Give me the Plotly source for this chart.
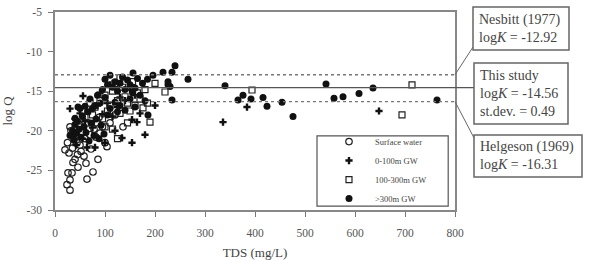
import plotly.graph_objects as go

# ---- data ----
surf_tds = [20, 26, 30, 24, 30, 34, 46, 62, 64, 76, 86, 104, 136, 100, 28, 35, 38, 42, 45, 50,
            55, 60, 70, 78, 82, 90, 95, 40, 52, 32, 48, 66, 110, 120, 88, 72, 36, 44, 58, 25, 30]
surf_logq = [-22.4, -25.3, -26.2, -26.8, -27.5, -25.3, -24.6, -24.1, -26.1, -25.2, -23.6, -22.0, -19.5,
             -21.5, -22.8, -22.2, -21.0, -20.5, -23.0, -21.8, -20.2, -21.0, -20.5, -19.8, -20.8, -20.3,
             -19.5, -23.6, -22.6, -20.0, -19.2, -19.0, -19.0, -18.0, -18.3, -22.3, -24.0, -21.5, -23.2,
             -21.5, -19.5]

gw1_tds = [56, 134, 154, 180, 100, 64, 80, 384, 648, 336, 154, 164, 30, 40, 45, 50, 60, 70, 85, 95,
           105, 115, 125, 130, 140, 150, 160, 110, 90, 75, 35, 170, 200, 120, 55, 42]
gw1_logq = [-15.6, -20.9, -21.5, -20.5, -21.5, -22.1, -22.1, -17.0, -17.5, -18.9, -18.6, -18.9, -17.2,
            -18.5, -20.0, -17.8, -18.8, -17.5, -16.8, -17.9, -16.5, -18.2, -17.0, -15.8, -16.2, -14.8,
            -15.5, -14.2, -15.2, -19.6, -20.8, -17.8, -16.8, -20.0, -21.0, -21.8]

gw2_tds = [394, 714, 694, 220, 190, 176, 140, 80, 90, 100, 105, 110, 115, 120, 125, 130, 135, 145,
           150, 155, 160, 165, 170, 180, 185, 60, 70, 95, 100, 115, 85, 200, 130, 145, 75, 50, 40, 125]
gw2_logq = [-14.85, -14.2, -18.0, -15.1, -18.9, -17.1, -15.7, -17.0, -16.2, -15.5, -17.5, -16.8, -15.0,
            -14.0, -16.2, -17.8, -14.5, -16.5, -17.5, -13.8, -16.8, -15.2, -16.0, -14.8, -16.5, -18.2,
            -16.5, -18.5, -19.5, -19.8, -19.0, -14.0, -13.3, -19.0, -18.0, -19.5, -19.8, -21.0]

gw3_tds = [240, 266, 234, 216, 196, 234, 226, 230, 226, 156, 340, 366, 376, 392, 416, 424, 454, 476,
           542, 558, 576, 608, 636, 764,
           100, 105, 110, 115, 120, 125, 130, 135, 140, 145, 150, 155, 160, 165, 170, 175, 180, 185,
           100, 95, 90, 85, 80, 75, 70, 65, 60, 55, 50, 45, 40, 35, 30, 38, 42, 48, 52, 58, 62, 68,
           72, 78, 82, 88, 92, 98, 105, 110, 120, 125, 130, 140, 150, 160, 186, 46, 40]
gw3_logq = [-11.8, -13.5, -12.6, -12.6, -13.0, -16.1, -14.2, -14.4, -13.8, -12.7, -14.3, -16.1, -15.5,
            -16.0, -15.8, -16.9, -16.4, -18.2, -14.1, -15.9, -15.7, -15.3, -14.6, -16.1,
            -13.5, -14.2, -13.0, -14.5, -13.8, -15.0, -14.0, -13.2, -14.8, -13.6, -14.2, -15.2, -14.6,
            -13.4, -15.5, -14.0, -16.2, -13.5,
            -15.8, -14.8, -16.5, -15.5, -16.8, -17.2, -16.0, -17.6, -16.9, -18.2, -17.2, -18.8, -19.2,
            -20.0, -20.6, -21.2, -20.3, -19.8, -20.8, -19.5, -20.2, -21.3, -19.0, -20.6, -18.5, -21.0,
            -19.3, -20.4, -18.0, -17.2, -16.4, -17.6, -16.8, -17.4, -16.0, -17.0, -18.0, -17.0, -18.4]

ref_names = ["Nesbitt (1977)", "This study", "Helgeson (1969)"]
ref_logk = [-12.92, -14.56, -16.31]
study_sd = 0.49

series_names = ["Surface water", "0-100m GW", "100-300m GW", ">300m GW"]

x_ticks = [0, 100, 200, 300, 400, 500, 600, 700, 800]
y_ticks = [-5, -10, -15, -20, -25, -30]

SERIF = "Liberation Serif"
TXT = "#444444"

fig = go.Figure()

fig.add_trace(go.Scatter(x=surf_tds, y=surf_logq, mode="markers", name=series_names[0],
                         marker=dict(symbol="circle-open", size=6.5, color="#222",
                                     line=dict(width=1.2, color="#222"))))
fig.add_trace(go.Scatter(x=gw1_tds, y=gw1_logq, mode="markers", name=series_names[1],
                         marker=dict(symbol="cross", size=6, color="#111",
                                     line=dict(width=0))))
fig.add_trace(go.Scatter(x=gw2_tds, y=gw2_logq, mode="markers", name=series_names[2],
                         marker=dict(symbol="square-open", size=6, color="#222",
                                     line=dict(width=1.2, color="#222"))))
fig.add_trace(go.Scatter(x=gw3_tds, y=gw3_logq, mode="markers", name=series_names[3],
                         marker=dict(symbol="circle", size=7, color="#111")))

# reference lines
fig.add_shape(type="line", xref="x", yref="y", x0=0, x1=800, y0=ref_logk[0], y1=ref_logk[0],
              line=dict(color="#777", width=1.3, dash="dot"))
fig.add_shape(type="line", xref="x", yref="y", x0=0, x1=800, y0=ref_logk[2], y1=ref_logk[2],
              line=dict(color="#777", width=1.3, dash="dot"))
fig.add_shape(type="line", xref="paper", yref="y", x0=0, x1=1.0475, y0=ref_logk[1], y1=ref_logk[1],
              line=dict(color="#555", width=1.2))

# connectors
fig.add_shape(type="line", xref="paper", yref="paper", x0=1.0, x1=1.045,
              y0=(ref_logk[0] + 30) / 25, y1=0.823, line=dict(color="#666", width=1))
fig.add_shape(type="line", xref="paper", yref="paper", x0=1.0, x1=1.0475,
              y0=(ref_logk[2] + 30) / 25, y1=0.364, line=dict(color="#666", width=1))

# boxes
boxes = [(1.045, 1.285, 0.808, 1.0253), (1.0475, 1.2825, 0.434, 0.742), (1.0475, 1.3175, 0.167, 0.379)]
for (x0, x1, y0, y1) in boxes:
    fig.add_shape(type="rect", xref="paper", yref="paper", x0=x0, x1=x1, y0=y0, y1=y1,
                  line=dict(color="#666", width=1.5), fillcolor="rgba(0,0,0,0)")

# legend frame
fig.add_shape(type="rect", xref="paper", yref="paper", x0=0.655, x1=0.983, y0=0.02, y1=0.374,
              line=dict(color="#555", width=1.2), fillcolor="white", layer="below")

texts = [
    f"{ref_names[0]}<br>log<i>K</i> = {ref_logk[0]:.2f}",
    f"{ref_names[1]}<br>log<i>K</i> = {ref_logk[1]:.2f}<br>st.dev. = {study_sd:.2f}",
    f"{ref_names[2]}<br>log<i>K</i> = {ref_logk[2]:.2f}",
]
for (x0, x1, y0, y1), t in zip(boxes, texts):
    fig.add_annotation(xref="paper", yref="paper", x=x0 + 0.010, y=(y0 + y1) / 2, text=t,
                       showarrow=False, xanchor="left", yanchor="middle", align="left",
                       font=dict(family=SERIF, size=14, color=TXT))

fig.update_xaxes(range=[0, 800], tickvals=x_ticks, ticktext=[str(v) for v in x_ticks],
                 ticks="outside", ticklen=5, tickcolor="#777", ticklabelstandoff=6, automargin=False,
                 showline=True, linecolor="#888", linewidth=1.5, mirror=True, showgrid=False,
                 zeroline=False, tickfont=dict(family=SERIF, size=11.5, color="#555"),
                 title=dict(text="TDS (mg/L)", font=dict(family=SERIF, size=13, color=TXT)))
fig.update_yaxes(range=[-30, -5], tickvals=y_ticks, ticktext=[str(v) for v in y_ticks],
                 ticks="outside", ticklen=5, tickcolor="#777", ticklabelstandoff=4, automargin=False,
                 showline=True, linecolor="#888", linewidth=1.5, mirror=True, showgrid=False,
                 zeroline=False, tickfont=dict(family=SERIF, size=11.5, color="#555"),
                 title=dict(text="log Q", font=dict(family=SERIF, size=13, color=TXT)))

fig.update_layout(
    width=589, height=260,
    margin=dict(l=55, r=134, t=12, b=50),
    plot_bgcolor="white", paper_bgcolor="white",
    legend=dict(x=0.655, y=0.419, xanchor="left", yanchor="top",
                borderwidth=0, bgcolor="rgba(0,0,0,0)",
                font=dict(family=SERIF, size=8.5, color=TXT),
                itemwidth=42, indentation=6, tracegroupgap=0),
)

fig.write_html("out.html")
